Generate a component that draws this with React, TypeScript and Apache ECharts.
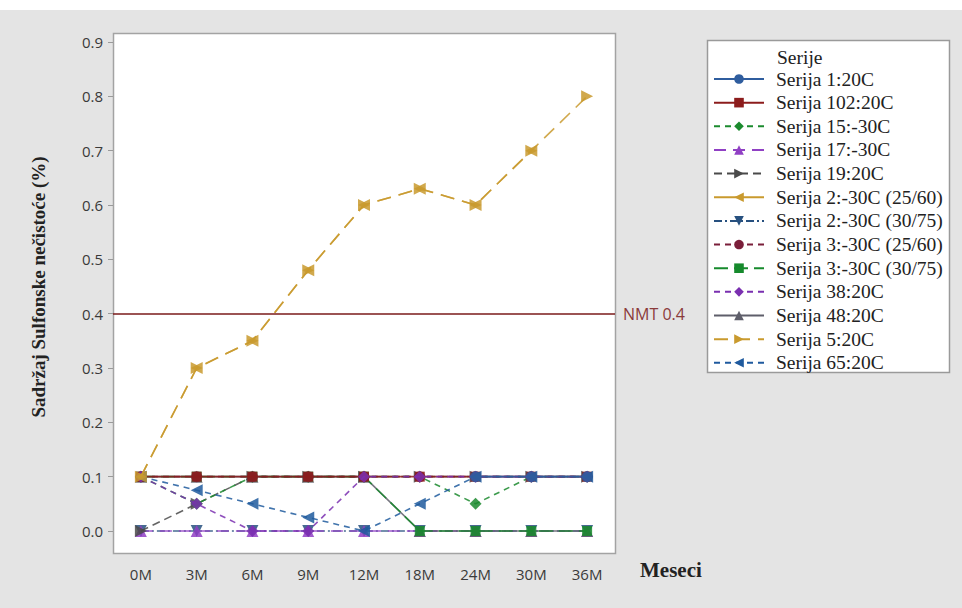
import React, { useEffect, useRef } from "react";
import * as echarts from "echarts";

const categories = ["0M", "3M", "6M", "9M", "12M", "18M", "24M", "30M", "36M"];
const yTicks = [0, 0.1, 0.2, 0.3, 0.4, 0.5, 0.6, 0.7, 0.8, 0.9];

const s1_20C = [null, null, null, null, null, null, 0.1, 0.1, 0.1];
const s102_20C = [0.1, 0.1, 0.1, 0.1, 0.1, 0.1, 0.1, 0.1, 0.1];
const s15_m30C = [0.1, 0.05, 0.1, 0.1, 0.1, 0.1, 0.05, 0.1, 0.1];
const s17_m30C = [0, 0, 0, 0, 0, 0, 0, 0, 0];
const s19_20C = [0, 0.05, 0.1, 0.1, 0.1, 0.1, 0.1, 0.1, 0.1];
const s2_m30C_2560 = [0.1, 0.3, 0.35, 0.48, 0.6, 0.63, 0.6, 0.7, null];
const s2_m30C_3075 = [0, 0, 0, 0, 0, 0, 0, 0, 0];
const s3_m30C_2560 = [0.1, 0.1, 0.1, 0.1, 0.1, 0.1, 0.1, 0.1, 0.1];
const s3_m30C_3075 = [0.1, 0.1, 0.1, 0.1, 0.1, 0, 0, 0, 0];
const s38_20C = [0.1, 0.05, 0, 0, 0.1, 0.1, 0.1, 0.1, 0.1];
const s48_20C = [0.1, 0.1, 0.1, 0.1, 0.1, 0, 0, 0, 0];
const s5_20C = [0.1, 0.3, 0.35, 0.48, 0.6, 0.63, 0.6, 0.7, 0.8];
const s65_20C = [0.1, 0.075, 0.05, 0.025, 0, 0.05, 0.1, 0.1, 0.1];
const nmtLimit = 0.4;

const seriesDefs = [
  { name: "Serija 1:20C", data: s1_20C, color: "#2f5d9e", symbol: "circle", rot: 0, dash: "solid", z: 2.9 },
  { name: "Serija 102:20C", data: s102_20C, color: "#8c1c1c", symbol: "rect", rot: 0, dash: "solid", z: 2.6 },
  { name: "Serija 15:-30C", data: s15_m30C, color: "#1b8a2e", symbol: "diamond", rot: 0, dash: [6, 5], z: 2.4 },
  { name: "Serija 17:-30C", data: s17_m30C, color: "#9040c4", symbol: "triangle", rot: 0, dash: [12, 7], z: 2.05 },
  { name: "Serija 19:20C", data: s19_20C, color: "#4a4a4a", symbol: "triangle", rot: -90, dash: [8, 5], z: 2.3 },
  { name: "Serija 2:-30C (25/60)", data: s2_m30C_2560, color: "#c99a2e", symbol: "triangle", rot: 90, dash: [14, 8], z: 3.1, legendDash: "solid" },
  { name: "Serija 2:-30C (30/75)", data: s2_m30C_3075, color: "#27507f", symbol: "triangle", rot: 180, dash: [8, 3, 2, 3], z: 2.0 },
  { name: "Serija 3:-30C (25/60)", data: s3_m30C_2560, color: "#7a1f3a", symbol: "circle", rot: 0, dash: [6, 5], z: 2.5 },
  { name: "Serija 3:-30C (30/75)", data: s3_m30C_3075, color: "#168a2c", symbol: "rect", rot: 0, dash: [14, 6], z: 2.2 },
  { name: "Serija 38:20C", data: s38_20C, color: "#7a2fb0", symbol: "diamond", rot: 0, dash: [6, 5], z: 2.7 },
  { name: "Serija 48:20C", data: s48_20C, color: "#5e5e6a", symbol: "triangle", rot: 0, dash: "solid", z: 2.1 },
  { name: "Serija 5:20C", data: s5_20C, color: "#c99a2e", symbol: "triangle", rot: -90, dash: [14, 8], z: 3.0 },
  { name: "Serija 65:20C", data: s65_20C, color: "#1f5a9e", symbol: "triangle", rot: 90, dash: [6, 5], z: 2.8 },
];

export default function App() {
  const ref = useRef<HTMLDivElement>(null);

  useEffect(() => {
    if (!ref.current) return;
    const chart = echarts.init(ref.current, undefined, { renderer: "svg" });

    const series: any[] = seriesDefs.map((d, i) => {
      const s: any = {
        name: d.name,
        type: "line",
        data: d.data,
        symbol: d.symbol,
        symbolSize: d.symbol === "rect" ? 10 : d.symbol === "circle" ? 11 : 12,
        symbolRotate: d.rot,
        showAllSymbol: true,
        clip: false,
        z: d.z,
        itemStyle: { color: d.color, opacity: 0.85 },
        lineStyle: { color: d.color, width: 1.6, type: d.dash, opacity: 0.85 },
        emphasis: { disabled: true },
      };
      if (i === 0) {
        s.markLine = {
          silent: true,
          symbol: "none",
          lineStyle: { color: "#7a1a1a", width: 1.5, type: "solid", opacity: 1 },
          label: {
            show: true,
            position: "end",
            formatter: "NMT 0.4",
            color: "#8b3a3a",
            fontFamily: "Open Sans",
            fontSize: 16,
            distance: 8,
          },
          data: [{ yAxis: nmtLimit }],
        };
      }
      return s;
    });

    const legendData = seriesDefs.map((d) => ({
      name: d.name,
      itemStyle: { opacity: 1 },
      lineStyle: d.legendDash ? { type: d.legendDash, width: 2, opacity: 1 } : { width: 2, opacity: 1 },
    }));

    chart.setOption({
      animation: false,
      backgroundColor: "#ffffff",
      grid: { left: 113, right: 347, top: 42, bottom: 77, containLabel: false },
      xAxis: {
        type: "category",
        data: categories,
        boundaryGap: true,
        offset: 22,
        axisLine: { show: false },
        axisTick: { show: true, alignWithLabel: true, length: 5, lineStyle: { color: "#9a9a9a" } },
        axisLabel: { color: "#3a3a3a", fontFamily: "Open Sans", fontSize: 15, margin: 13 },
        splitLine: { show: false },
      },
      yAxis: {
        type: "value",
        min: yTicks[0],
        max: yTicks[yTicks.length - 1],
        interval: 0.1,
        axisLine: { show: false },
        axisTick: { show: true, length: 5, lineStyle: { color: "#9a9a9a" } },
        axisLabel: {
          color: "#3a3a3a",
          fontFamily: "Open Sans",
          fontSize: 15,
          margin: 10,
          formatter: (v: number) => v.toFixed(1),
        },
        splitLine: { show: false },
      },
      legend: {
        orient: "vertical",
        left: 713,
        top: 69,
        padding: 0,
        itemWidth: 50,
        itemHeight: 12,
        itemGap: 3.65,
        data: legendData,
        textStyle: {
          fontFamily: "Liberation Serif",
          fontSize: 19.5,
          lineHeight: 18.5,
          color: "#222222",
          padding: [0, 0, 0, 7],
        },
        selectedMode: false,
      },
      graphic: [
        {
          type: "rect",
          z: -10,
          shape: { x: 0, y: 10, width: 962, height: 598 },
          style: { fill: "#e4e4e4" },
          silent: true,
        },
        {
          type: "rect",
          z: -9,
          shape: { x: 113.5, y: 33.5, width: 502, height: 520 },
          style: { fill: "#ffffff", stroke: "#a3a3a3", lineWidth: 1.5 },
          silent: true,
        },
        {
          type: "rect",
          z: -9,
          shape: { x: 707.5, y: 40.5, width: 242, height: 332 },
          style: { fill: "#ffffff", stroke: "#9a9a9a", lineWidth: 1.5 },
          silent: true,
        },
        {
          type: "text",
          z: 5,
          x: 777,
          y: 57,
          style: {
            text: "Serije",
            fontFamily: "Liberation Serif",
            fontSize: 19.5,
            fill: "#222222",
            verticalAlign: "middle",
            align: "left",
          },
          silent: true,
        },
        {
          type: "text",
          z: 5,
          x: 38,
          y: 287,
          rotation: Math.PI / 2,
          style: {
            text: "Sadržaj Sulfonske nečistoće (%)",
            fontFamily: "Liberation Serif",
            fontWeight: "bold",
            fontSize: 19,
            fill: "#222222",
            align: "center",
            verticalAlign: "middle",
          },
          silent: true,
        },
        {
          type: "text",
          z: 5,
          x: 640,
          y: 570,
          style: {
            text: "Meseci",
            fontFamily: "Liberation Serif",
            fontWeight: "bold",
            fontSize: 21,
            fill: "#222222",
            align: "left",
            verticalAlign: "middle",
          },
          silent: true,
        },
      ],
      series,
    });

    return () => chart.dispose();
  }, []);

  return (
    <div
      ref={ref}
      style={{ position: "fixed", left: 0, top: 0, width: 962, height: 608 }}
    />
  );
}
